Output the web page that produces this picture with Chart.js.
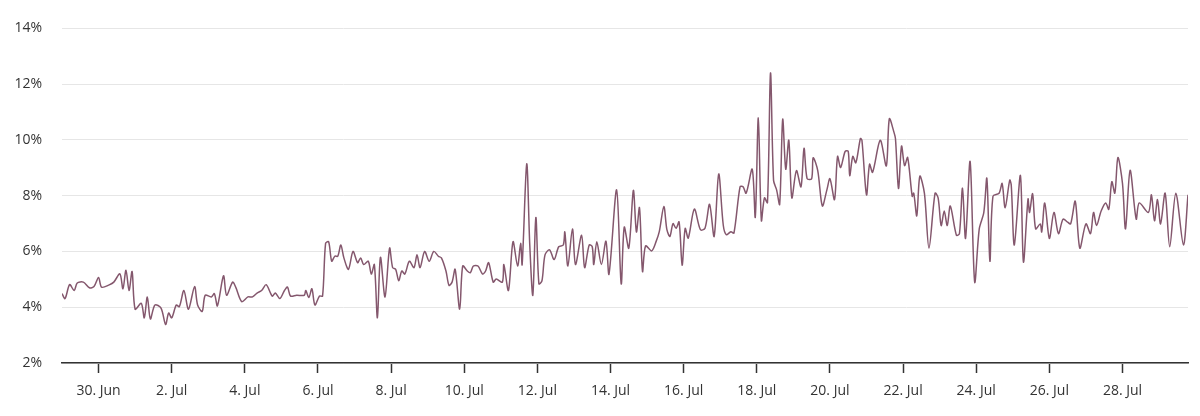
<!DOCTYPE html>
<html><head><meta charset="utf-8">
<script src="https://cdn.jsdelivr.net/npm/chart.js@4/dist/chart.umd.min.js"></script>
<style>html,body{margin:0;padding:0;background:#fff}#w{width:1200px;height:416px}</style>
</head><body><div id="w"><canvas id="c"></canvas></div>
<script>
// hours since 29 Jun 00:00
const hours = [0,2,5,8,10,14,18,21,24,26,31,34,38,40,42,44,46,48,52,54,56,58,61,65,68,70,72,75,77,80,83,87,89,92,94,98,100,102,106,108,112,114,118,122,125,128,131,134,138,140,143,146,148,150,154,159,160,162,164,166,169,171,173,175,177,179,181,183,185,188,
191,194,196,198,201,203,205,207,209,212,215,217,219,221,223,225,228,231,233,235,238,241,244,247,249,252,254,256,258,261,263,266,268,270,273,276,278,280,283,285,289,290,293,296,299,301,302,305,307,309,311,313,315,317,320,323,326,329,330,332,335,337,341,343,346,348,349,351,354,357,359,364,367,369,372,375,377,379,
381,383,387,390,392,395,397,399,401,403,405,407,409,411,415,419,422,425,428,431,434,436,439,441,445,447,449,453,455,457,459,461,463,465,467,469,471,473,475,477,479,482,485,487,489,492,493,496,499,502,504,507,509,511,514,516,517,519,521,524,525,528,530,532,537,541,543,546,547,549,
551,553,555,558,559,561,563,566,569,573,575,577,579,581,583,587,589,591,593,596,599,602,605,607,609,611,615,617,619,622,623,625,629,631,634,635,637,639,642,643,645,648,651,654,657,660,662,665,668,672,675,677,679,682,685,687,689,691,693,696,698,701,705,707,713,715,717,719,721,724,727,731,736,739];
const rates = [4.49,4.31,4.81,4.6,4.87,4.9,4.7,4.74,5.07,4.72,4.8,4.9,5.2,4.66,5.33,4.6,5.28,3.93,4.14,3.62,4.37,3.58,4.08,3.97,3.38,3.79,3.62,4.08,4.02,4.6,3.93,4.74,4.08,3.85,4.43,4.37,4.49,4.05,5.13,4.43,4.9,4.72,4.2,4.37,4.37,4.51,4.6,4.81,4.4,4.51,4.31,4.6,4.72,4.4,4.43,4.43,4.6,4.35,4.66,4.08,4.4,4.4,6.29,6.35,5.65,5.83,5.83,6.23,5.77,5.36,
6.0,5.6,5.77,5.53,5.65,5.19,5.53,3.62,5.79,4.37,6.12,5.42,5.36,4.95,5.3,5.19,5.65,5.42,5.88,5.42,6.0,5.65,6.0,5.83,5.77,5.3,4.78,4.9,5.36,3.93,5.48,5.3,5.24,5.48,5.48,5.19,5.3,5.6,4.9,5.01,4.9,5.53,4.6,6.35,5.48,6.29,5.53,9.14,6.23,4.43,7.22,4.84,4.95,5.88,6.06,5.71,6.17,6.23,6.7,5.48,6.81,5.53,6.58,5.42,6.23,6.17,5.53,6.35,5.53,6.37,5.19,8.21,4.84,6.87,6.12,8.19,6.7,7.57,
5.28,6.2,6.02,6.37,6.71,7.61,6.78,6.54,7.0,6.83,7.06,5.51,6.83,6.48,7.52,6.78,6.83,7.69,6.54,8.78,6.94,6.6,6.71,6.66,8.32,8.32,8.09,8.95,7.23,10.79,7.11,7.92,7.75,12.4,8.55,8.21,7.69,10.74,8.95,9.99,7.92,8.9,8.32,9.7,8.61,8.61,9.36,8.9,7.63,8.21,8.61,7.86,9.41,9.01,9.59,9.59,8.72,9.41,9.18,10.05,9.99,8.03,9.13,8.84,9.99,9.07,10.76,10.28,10.05,8.26,
9.78,9.08,9.37,7.98,8.09,7.28,8.7,8.09,6.12,8.09,7.92,6.93,7.45,6.93,7.63,6.58,6.64,8.27,6.47,9.23,4.9,6.81,7.4,8.62,5.65,7.98,8.09,8.44,7.57,8.56,8.38,6.23,8.73,5.62,7.88,7.4,8.07,6.81,6.99,6.7,7.74,6.47,7.4,6.64,7.16,7.05,6.99,7.8,6.12,6.99,6.64,7.4,6.93,7.45,7.74,7.51,8.5,8.09,9.37,8.44,6.81,8.91,7.16,7.74,7.4,8.03,7.1,7.86,6.99,8.09,6.17,8.09,6.23,8.03];
const tickHours = [24,72,120,168,216,264,312,360,408,456,504,552,600,648,696];
const tickLabels = ["30. Jun","2. Jul","4. Jul","6. Jul","8. Jul","10. Jul","12. Jul","14. Jul","16. Jul","18. Jul","20. Jul","22. Jul","24. Jul","26. Jul","28. Jul"];
const yTicks = [2,4,6,8,10,12,14];

const font = {family:"'Open Sans'", size:14};
new Chart(document.getElementById('c'), {
  type:'line',
  data:{datasets:[{data:hours.map((h,i)=>({x:h,y:rates[i]})),borderColor:'#84576d',borderWidth:1.5,pointRadius:0,tension:0.3,fill:false}]},
  options:{
    responsive:true,maintainAspectRatio:false,animation:false,
    layout:{padding:{top:4,right:12,left:0,bottom:0}},
    plugins:{legend:{display:false},tooltip:{enabled:false}},
    scales:{
      x:{type:'linear',min:0,max:739,
        afterBuildTicks:s=>{s.ticks=tickHours.map(v=>({value:v}));},
        afterFit:s=>{s.height=53;},
        ticks:{autoSkip:false,maxRotation:0,color:'#333',font,padding:10,callback:v=>tickLabels[tickHours.indexOf(v)]},
        grid:{drawOnChartArea:false,drawTicks:true,tickLength:10,color:'#333',tickWidth:1.5},
        border:{color:'#333',width:1.5}},
      y:{min:2,max:14,
        afterBuildTicks:s=>{s.ticks=yTicks.map(v=>({value:v}));},
        afterFit:s=>{s.width=62;},
        ticks:{color:'#333',font,padding:20,callback:v=>v+'%'},
        grid:{color:'#e6e6e6',drawTicks:false},
        border:{display:false}}
    }
  }
});
</script></body></html>
